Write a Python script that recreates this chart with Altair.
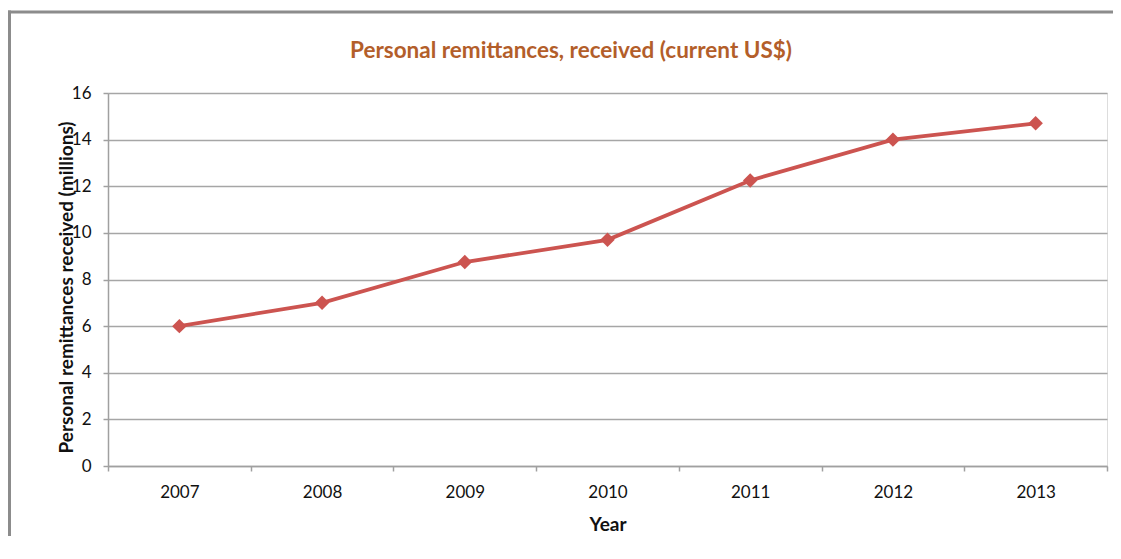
import altair as alt
import pandas as pd

years = ["2007", "2008", "2009", "2010", "2011", "2012", "2013"]
remittances = [6.0, 7.0, 8.75, 9.7, 12.25, 14.0, 14.7]
y_ticks = [0, 2, 4, 6, 8, 10, 12, 14, 16]
title_text = "Personal remittances, received (current US$)"

df = pd.DataFrame({"Year": years, "Value": remittances})

FONT = "Lato"
LINE_COLOR = "#cc5450"
TEXT_COLOR = "#111111"

base = alt.Chart(df)

line = base.mark_line(
    color=LINE_COLOR,
    strokeWidth=3.8,
    point=alt.OverlayMarkDef(shape="diamond", size=210, filled=True, color=LINE_COLOR, opacity=1),
).encode(
    x=alt.X(
        "Year:N",
        sort=years,
        scale=alt.Scale(paddingInner=0, paddingOuter=0),
        axis=alt.Axis(
            title="Year",
            labelAngle=0,
            tickBand="extent",
            tickSize=5,
            tickColor="#a0a0a0",
            domainColor="#a0a0a0",
            domainWidth=1.5,
            tickWidth=1.5,
            grid=False,
            labelFont=FONT,
            labelFontSize=17,
            labelColor=TEXT_COLOR,
            labelBaseline="middle",
            labelPadding=21,
            titleFont=FONT,
            titleFontSize=19,
            titleFontWeight="bold",
            titleColor=TEXT_COLOR,
            titleBaseline="middle",
            titleY=58,
        ),
    ),
    y=alt.Y(
        "Value:Q",
        scale=alt.Scale(domain=[0, 16], nice=False),
        axis=alt.Axis(
            title="Personal remittances received (millions)",
            values=y_ticks,
            tickSize=5,
            tickColor="#a0a0a0",
            tickWidth=1.5,
            domainColor="#a0a0a0",
            domainWidth=1.5,
            grid=True,
            gridColor="#a6a6a6",
            gridWidth=1.5,
            labelFont=FONT,
            labelFontSize=17,
            labelColor=TEXT_COLOR,
            labelPadding=12,
            titleFont=FONT,
            titleFontSize=19,
            titleFontWeight="bold",
            titleColor=TEXT_COLOR,
            titleBaseline="middle",
            titleX=-42,
            titleY=194,
            titleAngle=-90,
        ),
    ),
)

frame_df = pd.DataFrame({"a": [0]})
top_border = alt.Chart(frame_df).mark_rule(color="#8c8c8c", strokeWidth=3).encode(
    x=alt.value(-100), x2=alt.value(1013), y=alt.value(-81)
)
left_border = alt.Chart(frame_df).mark_rule(color="#8c8c8c", strokeWidth=3).encode(
    x=alt.value(-98.5), y=alt.value(-82.5), y2=alt.value(480)
)
title_mark = alt.Chart(frame_df).mark_text(
    font=FONT,
    fontSize=22.5,
    fontWeight="bold",
    color="#b35e2a",
    align="center",
    baseline="middle",
).encode(
    x=alt.value(463), y=alt.value(-42), text=alt.value(title_text)
)

chart = alt.layer(top_border, left_border, title_mark, line).properties(
    width=999,
    height=373,
    autosize=alt.AutoSizeParams(type="none"),
    padding={"left": 100, "top": 85, "right": 6, "bottom": 70},
).configure_view(stroke=None).configure(background="white")

chart.save("out.html", embed_options={"renderer": "svg", "actions": False})
